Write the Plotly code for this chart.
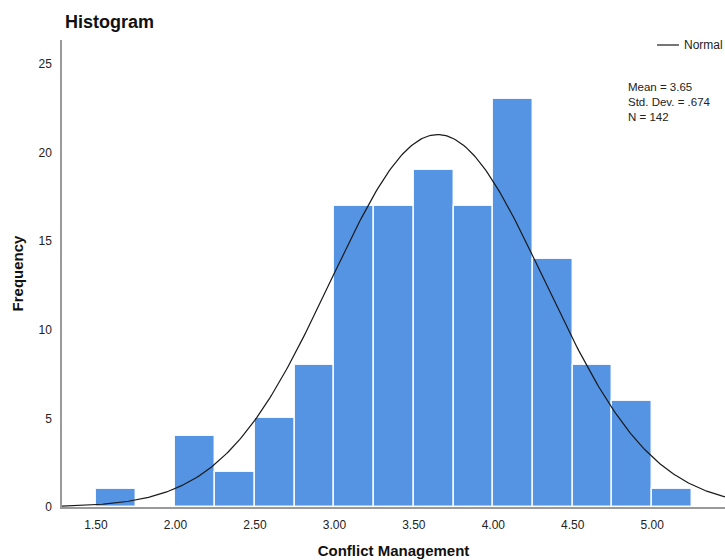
import numpy as np
import plotly.graph_objects as go

# Data
bin_starts = [1.50, 1.75, 2.00, 2.25, 2.50, 2.75, 3.00, 3.25, 3.50, 3.75, 4.00, 4.25, 4.50, 4.75, 5.00]
counts = [1, 0, 4, 2, 5, 8, 17, 17, 19, 17, 23, 14, 8, 6, 1]
bin_width = 0.25
stat_mean = 3.65
stat_sd = 0.674
stat_n = 142
stat_lines = ["Mean = 3.65", "Std. Dev. = .674", "N = 142"]
x_ticks = [1.5, 2.0, 2.5, 3.0, 3.5, 4.0, 4.5, 5.0]
x_tick_text = ["1.50", "2.00", "2.50", "3.00", "3.50", "4.00", "4.50", "5.00"]
y_ticks = [0, 5, 10, 15, 20, 25]

x_range = [1.286, 5.458]
y_range = [0, 26.35]

centers = [s + bin_width / 2 for s in bin_starts]

# Normal curve from the stated statistics
xc = np.linspace(x_range[0], x_range[1], 400)
yc = stat_n * bin_width / (stat_sd * np.sqrt(2 * np.pi)) * np.exp(-0.5 * ((xc - stat_mean) / stat_sd) ** 2)

FONT = "Arial, Liberation Sans, sans-serif"
W, H = 725, 560
ML, MR, MT, MB = 62, 0, 40, 53
PW, PH = W - ML - MR, H - MT - MB

def px_x(p):
    return (p - ML) / PW

def px_y(p):
    return (H - MB - p) / PH

fig = go.Figure()
fig.add_trace(go.Bar(
    x=centers, y=counts, width=bin_width,
    marker=dict(color="#5593E3", line=dict(color="rgba(255,255,255,0.9)", width=1.5)),
    showlegend=False, hoverinfo="x+y",
))
fig.add_trace(go.Scatter(
    x=xc, y=yc, mode="lines", name="Normal",
    line=dict(color="#1a1a1a", width=1.2),
    showlegend=False, cliponaxis=True,
))

annotations = [
    dict(text="Normal", xref="paper", yref="paper", x=px_x(682), y=px_y(45),
         xanchor="left", yanchor="middle", showarrow=False,
         font=dict(size=12, family=FONT, color="#222")),
    dict(text="<br>".join(stat_lines), xref="paper", yref="paper", x=px_x(627), y=px_y(80),
         xanchor="left", yanchor="top", align="left", showarrow=False, borderpad=0,
         font=dict(size=11.5, family=FONT, color="#222")),
]

fig.update_layout(
    width=W, height=H,
    margin=dict(l=ML, r=MR, t=MT, b=MB, autoexpand=False),
    paper_bgcolor="white", plot_bgcolor="white",
    font=dict(family=FONT, size=12, color="#222"),
    bargap=0,
    showlegend=False,
    title=dict(text="<b>Histogram</b>", x=0, xref="paper", xanchor="left",
               y=1 - 22 / H, yref="container", yanchor="middle",
               font=dict(family=FONT, size=18, color="#111"), pad=dict(l=3)),
    xaxis=dict(range=x_range, tickvals=x_ticks, ticktext=x_tick_text, showgrid=False,
               zeroline=False, showline=True, linecolor="#9a9a9a", linewidth=1.5,
               ticks="", ticklabelstandoff=6, automargin=False,
               tickfont=dict(size=12, family=FONT, color="#222"),
               title=dict(text="<b>Conflict Management</b>", font=dict(size=15, family=FONT, color="#111"),
                          standoff=14)),
    yaxis=dict(range=y_range, tickvals=y_ticks, showgrid=False, zeroline=False,
               showline=True, linecolor="#9a9a9a", linewidth=1.5, ticks="", ticklabelstandoff=6,
               automargin=False,
               tickfont=dict(size=12, family=FONT, color="#222"),
               title=dict(text="<b>Frequency</b>", font=dict(size=15, family=FONT, color="#111"),
                          standoff=11)),
    shapes=[dict(type="line", xref="paper", yref="paper",
                 x0=px_x(657), x1=px_x(679), y0=px_y(45), y1=px_y(45),
                 line=dict(color="#1a1a1a", width=1.2))],
    annotations=annotations,
)

fig.write_html("out.html", config={"displayModeBar": False},
               post_script="document.body.style.margin='0';document.body.style.overflow='hidden';")
